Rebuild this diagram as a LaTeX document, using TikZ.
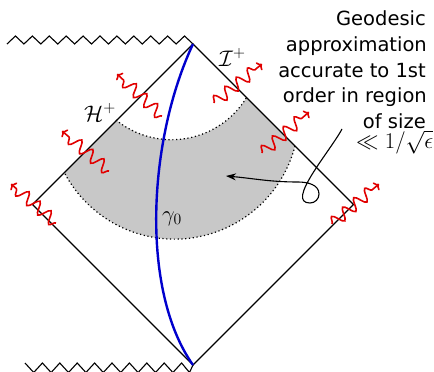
\RequirePackage{fix-cm}
\documentclass[tikz,border=0pt]{standalone}
\usepackage{fontspec}
\setmainfont{DejaVu Sans}
\usetikzlibrary{decorations.pathmorphing,arrows.meta}
\definecolor{regiongray}{RGB}{200,200,200}
\definecolor{geoblue}{RGB}{0,0,205}
\definecolor{wavered}{RGB}{225,0,0}
\begin{document}
\begin{tikzpicture}[x=1pt,y=1pt,
  edge/.style={line width=1.1pt, black},
  bound/.style={line width=1.2pt, black, dash pattern=on 1.2pt off 2.6pt},
  geod/.style={line width=2.4pt, geoblue},
  wave/.style={wavered, line width=1.6pt, decorate,
     decoration={snake, amplitude=6pt, segment length=14.5pt, post length=5pt},
     -{To[length=4.5pt,width=10pt]}},
  pointer/.style={line width=1.1pt, black, -{Stealth[length=10pt,width=7pt]}},
  txt/.style={font=\fontsize{19.5}{24}\selectfont, inner sep=0pt, anchor=base east},
  mlbl/.style={font=\fontsize{22.5}{26}\selectfont, inner sep=0pt, anchor=base west}
]
\useasboundingbox (0,0) rectangle (434,-372);

% diamond corners
\coordinate (T) at (193,-44);
\coordinate (B) at (193,-365);
\coordinate (L) at (32.5,-204.5);
\coordinate (R) at (353.5,-204.5);

% shaded region
\begin{scope}
  \clip (T) -- (L) -- (B) -- (R) -- cycle;
  \fill[regiongray] (116,-120) arc[start angle=-129.1, end angle=-30.9, radius=87.96]
     -- (295,-146) arc[start angle=-14.6, end angle=-152.5, radius=124.5] -- cycle;
\end{scope}
\draw[bound] (116,-120) arc[start angle=-129.1, end angle=-30.9, radius=87.96];
\draw[bound] (295,-146) arc[start angle=-14.6, end angle=-152.5, radius=124.5];

% singularities
\draw[edge] (7,-44) \foreach \i in {0,...,10} { -- ({7+16.91*\i+8.455},-36) -- ({7+16.91*(\i+1)},-44) };
\draw[edge] (25,-363) \foreach \i in {0,...,8} { -- ({25+17.4*\i+8.7},-372.5) -- ({25+17.4*(\i+1)},-363) } -- (189.5,-372.5) -- (B);

% edges
\draw[edge] (T) -- (L) -- (B) -- (R) -- cycle;

% geodesic
\draw[geod] (T) .. controls (148,-140) and (140,-290) .. (B);

% radiation
\coordinate (w1s) at (162,-116); \coordinate (w1e) at (117,-74);
\coordinate (w2s) at (214,-103); \coordinate (w2e) at (262,-64);
\coordinate (w3s) at (109,-171); \coordinate (w3e) at (62,-131);
\coordinate (w4s) at (262,-153); \coordinate (w4e) at (309,-112);
\coordinate (w5s) at (56,-223);  \coordinate (w5e) at (11,-184);
\coordinate (w6s) at (332,-224); \coordinate (w6e) at (379,-184);
\draw[wave] (w1s) -- (w1e);
\draw[wave] (w2s) -- (w2e);
\draw[wave] (w3s) -- (w3e);
\draw[wave] (w4s) -- (w4e);
\draw[wave] (w5s) -- (w5e);
\draw[wave] (w6s) -- (w6e);

% labels
\node[mlbl] (H) at (84,-121) {$\mathcal{H}^+$};
\node[mlbl] (I) at (219,-66) {$\mathcal{I}^+$};
\node[mlbl] (g) at (162,-221) {$\gamma_0$};

% text
\node[txt] (t1) at (426,-25) {Geodesic};
\node[txt] (t2) at (427,-51) {approximation};
\node[txt] (t3) at (426,-77) {accurate to 1st};
\node[txt] (t4) at (427,-102) {order in region};
\node[txt] (t5) at (426,-128) {of size};
\node[mlbl] (t6) at (356,-148) {$\ll 1/\sqrt{\epsilon}$};

% pointer
\coordinate (as) at (342,-129);
\coordinate (ae) at (226,-176);
\draw[pointer] (as) to[out=242, in=180, looseness=0.8] (310,-203)
   to[out=0, in=270] (319,-194) to[out=90, in=0] (298,-182)
   to[out=180, in=-5] (ae);
\end{tikzpicture}
\end{document}
